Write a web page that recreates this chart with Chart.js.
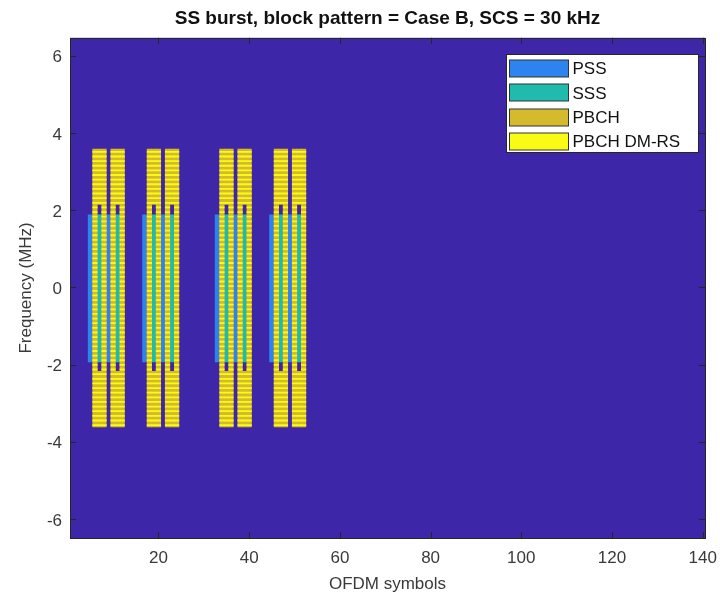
<!DOCTYPE html>
<html>
<head>
<meta charset="utf-8">
<title>SS burst</title>
<script src="https://cdn.jsdelivr.net/npm/chart.js@4.4.0/dist/chart.umd.min.js"></script>
<style>
    html, body { margin: 0; padding: 0; background: #fff; }
    #wrap { width: 720px; height: 600px; }
</style>
</head>
<body>
<div id="wrap"><canvas id="grid" width="720" height="600"></canvas></div>
<script>
// SS burst layout (Case B, 30 kHz, 8 blocks)
const ssbStartSymbols = [5, 9, 17, 21, 33, 37, 45, 49];   // OFDM symbol of each PSS (1-based)
const scsMHz = 0.03;
const ssbCentreSubcarrier = 120;                          // SSB is centred on 0 MHz
const pssSymbol = 0;
const sssSymbol = 2;
const pbchFullSymbols = [1, 3];
const pssSubcarriers = [56, 182];
const sssSubcarriers = [56, 182];
const pbchFullSubcarriers = [[0, 239]];
const pbchEdgeSubcarriers = [[0, 47], [192, 239]];
const dmrsSpacing = 4;
const dmrsOffset = 1;

const xRange = [0.5, 140.5];
const yRange = [-6.495, 6.465];
const xTickValues = [20, 40, 60, 80, 100, 120, 140];
const yTickValues = [-6, -4, -2, 0, 2, 4, 6];

const seriesNames = ["PSS", "SSS", "PBCH", "PBCH DM-RS"];
const seriesColors = ["#2D84EE", "#20BBAD", "#D6BA2E", "#F9FB15"];
const emptyColor = "#3E26A8";

Chart.defaults.font.family = "'Liberation Sans', Arial, Helvetica, sans-serif";

function freq(k) {
    return (k - ssbCentreSubcarrier) * scsMHz;
}

function cell(sym, kLo, kHi) {
    return { x: sym, y: [freq(kLo) - scsMHz / 2, freq(kHi) + scsMHz / 2] };
}

const pssCells = [];
const sssCells = [];
const pbchCells = [];
const dmrsCells = [];

function addPbch(sym, ranges) {
    for (const r of ranges) {
        pbchCells.push(cell(sym, r[0], r[1]));
        for (let k = r[0]; k <= r[1]; k++) {
            if (k % dmrsSpacing === dmrsOffset) dmrsCells.push(cell(sym, k, k));
        }
    }
}

for (const s of ssbStartSymbols) {
    pssCells.push(cell(s + pssSymbol, pssSubcarriers[0], pssSubcarriers[1]));
    sssCells.push(cell(s + sssSymbol, sssSubcarriers[0], sssSubcarriers[1]));
    for (const p of pbchFullSymbols) addPbch(s + p, pbchFullSubcarriers);
    addPbch(s + sssSymbol, pbchEdgeSubcarriers);
}

const cellSets = [pssCells, sssCells, pbchCells, dmrsCells];
const drawOrder = [3, 2, 1, 0];

const frame = {
    id: "frame",
    beforeDatasetsDraw(chart) {
        const a = chart.chartArea;
        const ctx = chart.ctx;
        ctx.save();
        ctx.fillStyle = emptyColor;
        ctx.fillRect(a.left, a.top, a.right - a.left, a.bottom - a.top);
        ctx.restore();
    },
    afterDatasetsDraw(chart) {
        const a = chart.chartArea;
        const ctx = chart.ctx;
        const xs = chart.scales.x, ys = chart.scales.y;
        ctx.save();
        ctx.strokeStyle = "#262626";
        ctx.lineWidth = 1;
        ctx.beginPath();
        for (const v of xTickValues) {
            const px = Math.round(xs.getPixelForValue(v)) + 0.5;
            ctx.moveTo(px, a.bottom); ctx.lineTo(px, a.bottom - 6);
            ctx.moveTo(px, a.top); ctx.lineTo(px, a.top + 6);
        }
        for (const v of yTickValues) {
            const py = Math.round(ys.getPixelForValue(v)) + 0.5;
            ctx.moveTo(a.left, py); ctx.lineTo(a.left + 6, py);
            ctx.moveTo(a.right, py); ctx.lineTo(a.right - 6, py);
        }
        ctx.stroke();
        ctx.strokeRect(Math.round(a.left) + 0.5, Math.round(a.top) + 0.5,
            Math.round(a.right - a.left), Math.round(a.bottom - a.top));
        ctx.restore();
    },
    afterDraw(chart) {
        // legend box in the upper right corner, MATLAB style
        const a = chart.chartArea;
        const ctx = chart.ctx;
        const bx = Math.round(a.right - 199) + 0.5, by = Math.round(a.top + 16) + 0.5;
        const bw = 192, bh = 98;
        ctx.save();
        ctx.fillStyle = "#fff";
        ctx.fillRect(bx, by, bw, bh);
        ctx.strokeStyle = "#262626";
        ctx.lineWidth = 1;
        ctx.strokeRect(bx, by, bw, bh);
        ctx.font = "17px 'Liberation Sans', Arial, sans-serif";
        ctx.textBaseline = "middle";
        chart.data.datasets.forEach((ds, i) => {
            const cy = by + 14 + i * 24.4;
            ctx.fillStyle = ds.backgroundColor;
            ctx.fillRect(bx + 3, Math.round(cy - 8.5), 59, 17);
            ctx.strokeStyle = "#333";
            ctx.strokeRect(bx + 3, Math.round(cy - 8.5), 59, 17);
            ctx.fillStyle = "#111";
            ctx.fillText(ds.label, bx + 66, cy + 1);
        });
        ctx.restore();
    }
};

new Chart(document.getElementById("grid"), {
    type: "bar",
    data: {
        datasets: seriesNames.map((name, i) => ({
            label: name,
            data: cellSets[i],
            backgroundColor: seriesColors[i],
            borderWidth: 0,
            grouped: false,
            barPercentage: 1,
            categoryPercentage: 1,
            order: drawOrder[i]
        }))
    },
    options: {
        responsive: false,
        animation: false,
        layout: { padding: { top: 0, right: 15, bottom: 0, left: 0 } },
        plugins: {
            legend: { display: false },
            tooltip: { enabled: false },
            title: {
                display: true,
                text: "SS burst, block pattern = Case B, SCS = 30 kHz",
                color: "#111",
                font: { size: 19, weight: "bold" },
                padding: { top: 7, bottom: 8 },
                fullSize: false
            }
        },
        scales: {
            x: {
                type: "linear",
                min: xRange[0],
                max: xRange[1],
                offset: false,
                grid: { display: false, drawTicks: false, offset: false },
                border: { display: false },
                ticks: { color: "#3a3a3a", font: { size: 17 }, padding: 10, maxRotation: 0, autoSkip: false },
                afterBuildTicks: s => { s.ticks = xTickValues.map(v => ({ value: v })); },
                afterFit: s => { s.height = 62; s.paddingRight = 0; s.paddingLeft = 0; },
                title: { display: true, text: "OFDM symbols", color: "#3a3a3a", font: { size: 17 }, padding: { top: 0, bottom: 5 } }
            },
            y: {
                type: "linear",
                min: yRange[0],
                max: yRange[1],
                grid: { display: false, drawTicks: false },
                border: { display: false },
                ticks: { color: "#3a3a3a", font: { size: 17 }, padding: 8, labelOffset: 2, autoSkip: false },
                afterBuildTicks: s => { s.ticks = yTickValues.map(v => ({ value: v })); },
                afterFit: s => { s.width = 70; s.paddingTop = 0; s.paddingBottom = 0; },
                title: { display: true, text: "Frequency (MHz)", color: "#3a3a3a", font: { size: 17 }, padding: { top: 16, bottom: 0 } }
            }
        }
    },
    plugins: [frame]
});
</script>
</body>
</html>
